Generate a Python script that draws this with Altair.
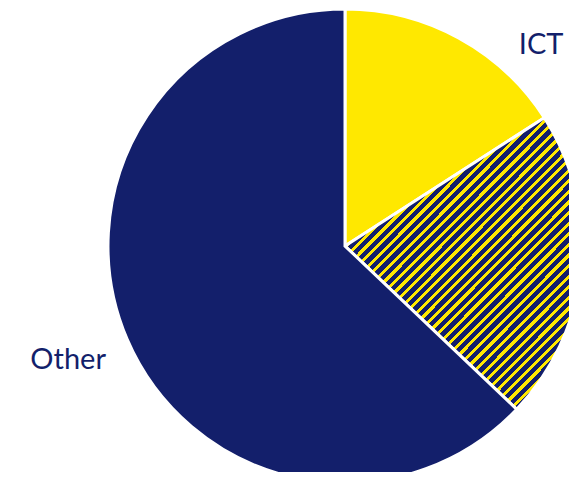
import altair as alt
import pandas as pd

categories = ["ICT", "ICT-related", "Other"]
shares = [15.9, 21.2, 62.9]
labels = ["ICT", "", "Other"]

NAVY = "#131f6b"
YELLOW = "#ffe800"

df = pd.DataFrame({"cat": categories, "share": shares, "label": labels,
                   "idx": list(range(len(categories)))})

# diagonal stripe fill (hatching) built as a hard-stop linear gradient
w, h = 236.0, 289.0
t = (w + h) / (w * w + h * h)
period = 10.5 / (w + h)
stops = []
k = 0
while k * period < 1.0:
    s0 = k * period
    s1 = min(1.0, s0 + 0.4 * period)
    s2 = min(1.0, s0 + period)
    stops += [{"offset": s0, "color": YELLOW}, {"offset": s1, "color": YELLOW},
              {"offset": s1, "color": NAVY}, {"offset": s2, "color": NAVY}]
    k += 1
hatch = {"gradient": "linear", "x1": 0, "y1": 0, "x2": t * w, "y2": t * h,
         "stops": stops}

CX, CY, R = 337, 238, 237

fill = {
    "condition": [
        {"test": "datum.cat == 'ICT'", "value": YELLOW},
        {"test": "datum.cat == 'ICT-related'", "value": hatch},
    ],
    "value": NAVY,
}

base = alt.Chart(df)

pie = base.mark_arc(radius=R, stroke="white", strokeWidth=3, strokeJoin="miter").encode(
    theta=alt.Theta("share:Q", stack=True),
    order=alt.Order("idx:Q"),
    fill=fill,
    x=alt.value(CX),
    y=alt.value(CY),
)

def label_layer(name, radius, dx, dy):
    return base.transform_window(
        cum="sum(share)", sort=[alt.SortField("idx")]
    ).transform_calculate(
        mid="datum.cum - datum.share / 2"
    ).transform_filter(
        alt.datum.cat == name
    ).mark_text(
        radius=radius, dx=dx, dy=dy, font="Lato", fontSize=29, color=NAVY,
        align="center", baseline="middle"
    ).encode(
        theta=alt.Theta("mid:Q", stack=None,
                        scale=alt.Scale(domain=[0, 100], range=[0, 6.283185307])),
        text="label:N",
        x=alt.value(CX),
        y=alt.value(CY),
    )

ict_text = label_layer("ICT", 282, 61, 47)
other_text = label_layer("Other", 298, -3, -3)

chart = alt.layer(pie, ict_text, other_text).properties(
    width=561, height=464, padding=0,
    autosize=alt.AutoSizeParams(type="none"),
).configure_view(stroke=None)

chart.save("out.html", embed_options={"renderer": "svg", "actions": False})
